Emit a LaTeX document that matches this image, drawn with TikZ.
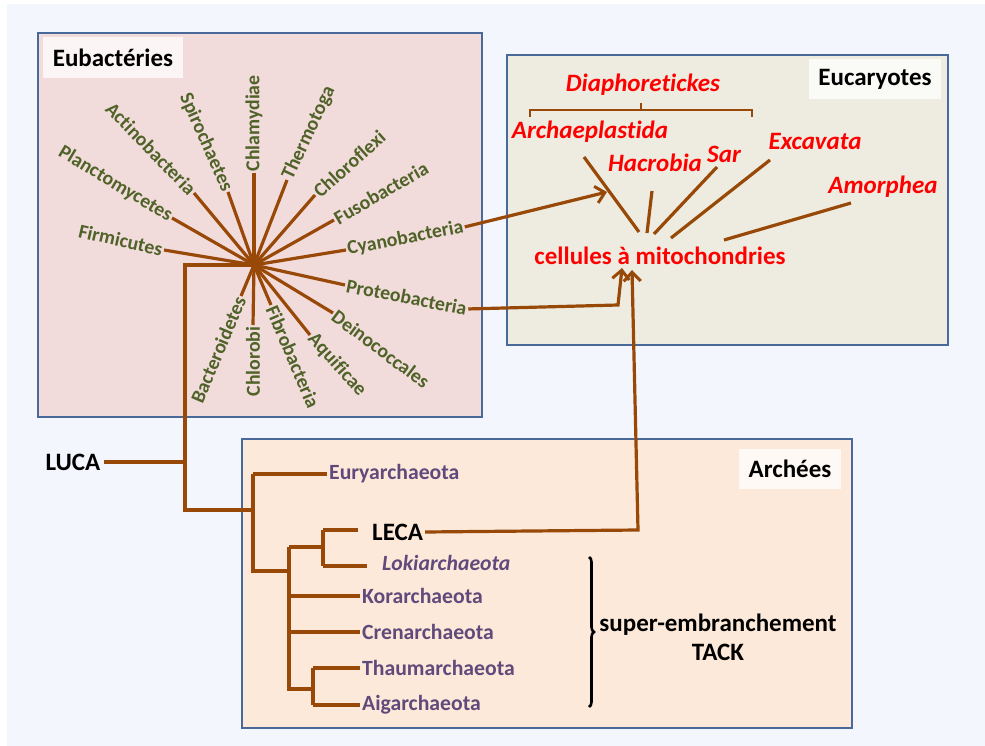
\documentclass[tikz,border=0pt]{standalone}
\usepackage{fontspec}
\setmainfont{Carlito}[Ligatures=NoCommon]
\usetikzlibrary{arrows.meta,decorations.pathreplacing}

\definecolor{brun}{HTML}{984807}
\definecolor{vertol}{HTML}{4F6228}
\definecolor{violarch}{HTML}{604A7B}
\definecolor{rouge}{HTML}{FF0000}
\definecolor{bord}{HTML}{48699A}
\definecolor{fondbleu}{HTML}{F3F6FC}

\tikzset{
  branche/.style={brun,line width=3.2pt},
  fleche/.style={branche,-{Straight Barb[length=9pt,width=17pt,line width=3pt]}},
  bact/.style={font=\bfseries\fontsize{19.8}{21}\selectfont,text=vertol,inner sep=1.5pt},
  euca/.style={font=\bfseries\itshape\fontsize{25}{26}\selectfont,text=rouge,inner sep=1pt},
  arch/.style={font=\bfseries\fontsize{21.7}{22}\selectfont,text=violarch,inner sep=2pt,anchor=west},
  noir/.style={font=\bfseries\fontsize{25}{26}\selectfont,text=black},
  titre/.style={noir,fill=white,fill opacity=0.75,text opacity=1,inner sep=0pt},
  boite/.style={draw=bord,line width=2.8pt}
}

\begin{document}
\begin{tikzpicture}[x=1pt,y=-1pt]
\useasboundingbox (0,0) rectangle (985,746);
\fill[white] (0,0) rectangle (985,746);
\fill[fondbleu] (7,4) rectangle (985,746);

% les trois domaines
\filldraw[boite,fill={rgb,255:red,242;green,220;blue,219}] (38,33) rectangle (482,417);
\filldraw[boite,fill={rgb,255:red,238;green,236;blue,225}] (507,55) rectangle (948,345);
\filldraw[boite,fill={rgb,255:red,253;green,233;blue,217}] (242,439) rectangle (852,728);

\node[titre,minimum width=140pt,minimum height=41pt] (eubact) at (113,57.5) {Eubactéries};
\node[titre,minimum width=132pt,minimum height=40pt] (eucar) at (875,79) {Eucaryotes};
\node[titre,minimum width=102pt,minimum height=40pt] (archees) at (790,469) {Archées};

% étoile des eubactéries
\coordinate (O) at (254,265);
\coordinate (firm) at (164,250);
\coordinate (planc) at (172,218);
\coordinate (actino) at (194,193);
\coordinate (spiro) at (228,192);
\coordinate (chlam) at (254,173);
\coordinate (thermo) at (287,180);
\coordinate (chlorof) at (315,195);
\coordinate (fuso) at (334,220);
\coordinate (cyanoB) at (346,250);
\coordinate (proteoB) at (345,285);
\coordinate (deino) at (333,313);
\coordinate (aqui) at (310,335);
\coordinate (fibro) at (271,305);
\coordinate (chlorob) at (253,325);
\coordinate (bactero) at (241,296);

\foreach \b in {firm,planc,actino,spiro,chlam,thermo,chlorof,fuso,cyanoB,proteoB,deino,aqui,fibro,chlorob,bactero}
  \draw[branche] (O) -- (\b);

\node[bact,anchor=east,rotate=-13] (Nfirm) at (firm) {Firmicutes};
\node[bact,anchor=east,rotate=-31] (Nplanc) at (planc) {Planctomycetes};
\node[bact,anchor=east,rotate=-46] (Nactino) at (actino) {Actinobacteria};
\node[bact,anchor=east,rotate=-66] (Nspiro) at (spiro) {Spirochaetes};
\node[bact,anchor=west,rotate=90] (Nchlam) at (chlam) {Chlamydiae};
\node[bact,anchor=west,rotate=65] (Nthermo) at (thermo) {Thermotoga};
\node[bact,anchor=west,rotate=42] (Nchlorof) at (chlorof) {Chloroflexi};
\node[bact,anchor=west,rotate=30] (Nfuso) at (fuso) {Fusobacteria};
\node[bact,anchor=west,rotate=11] (Ncyano) at (cyanoB) {Cyanobacteria};
\node[bact,anchor=west,rotate=-11] (Nproteo) at (proteoB) {Proteobacteria};
\node[bact,anchor=west,rotate=-37] (Ndeino) at (deino) {Deinococcales};
\node[bact,anchor=west,rotate=-48] (Naqui) at (aqui) {Aquificae};
\node[bact,anchor=west,rotate=-67] (Nfibro) at (fibro) {Fibrobacteria};
\node[bact,anchor=east,rotate=90] (Nchlorob) at (chlorob) {Chlorobi};
\node[bact,anchor=east,rotate=67] (Nbactero) at (bactero) {Bacteroidetes};

% eucaryotes
\node[euca] (diapho) at (643,85) {Diaphoretickes};
\node[euca] (archaep) at (590,132) {Archaeplastida};
\node[euca] (hacro) at (655,163) {Hacrobia};
\node[euca] (sar) at (724,154) {Sar};
\node[euca] (excav) at (815,141) {Excavata};
\node[euca] (amorph) at (883,187) {Amorphea};
\node[noir,text=rouge] (cellules) at (660,256) {cellules à mitochondries};

\draw[brun,line width=2.8pt] (530,117) -- (530,110) -- (752,110) -- (752,117);
\draw[brun,line width=2.8pt] (641,110) -- (641,103);

\coordinate (e1a) at (584,157); \coordinate (e1b) at (639,232);
\coordinate (e2a) at (652,191); \coordinate (e2b) at (647,233);
\coordinate (e3a) at (717,167); \coordinate (e3b) at (654,234);
\coordinate (e4a) at (770,160); \coordinate (e4b) at (671,238);
\coordinate (e5a) at (851,203); \coordinate (e5b) at (724,240);
\draw[branche] (e1a) -- (e1b);
\draw[branche] (e2a) -- (e2b);
\draw[branche] (e3a) -- (e3b);
\draw[branche] (e4a) -- (e4b);
\draw[branche] (e5a) -- (e5b);

% archées
\node[noir] (luca) at (73,462) {LUCA};
\coordinate (r0) at (185,265);
\coordinate (r2) at (185,510);
\coordinate (a0) at (253,510);
\coordinate (a1) at (253,474);
\coordinate (a2) at (253,571);
\coordinate (b0) at (289,571);
\coordinate (b1) at (289,547);
\coordinate (b2) at (289,689);
\coordinate (c0) at (323,547);
\coordinate (c1) at (323,530);
\coordinate (c2) at (323,566);
\coordinate (d0) at (313,689);
\coordinate (d1) at (313,668);
\coordinate (d2) at (313,705);

\node[arch] (eury) at (327,474) {Euryarchaeota};
\node[noir,anchor=west,inner sep=2pt] (leca) at (370,532) {LECA};
\node[arch,font=\bfseries\itshape\fontsize{21.7}{22}\selectfont] (loki) at (380,563) {Lokiarchaeota};
\node[arch] (kor) at (360,596) {Korarchaeota};
\node[arch] (cren) at (360,632) {Crenarchaeota};
\node[arch] (thaum) at (360,668) {Thaumarchaeota};
\node[arch] (aig) at (360,705) {Aigarchaeota};

\draw[branche] (O) -- (r0) -- (r2) -- (a0);
\draw[branche] (luca.east) -- (luca -| r0);
\draw[branche] (a1) -- (a2) -- (b0);
\draw[branche] (a1) -- (eury);
\draw[branche] (b1) -- (b2) -- (d0);
\draw[branche] (b1) -- (c0);
\draw[branche] (c1) -- (c2);
\draw[branche] (c1) -- (358,530);
\draw[branche] (c2) -- (367,566);
\draw[branche] (b2 |- kor) -- (kor);
\draw[branche] (b2 |- cren) -- (cren);
\draw[branche] (d1) -- (d2);
\draw[branche] (d1) -- (thaum.west);
\draw[branche] (d2) -- (aig.west);

\draw[line width=2.6pt,decorate,decoration={brace,amplitude=5pt}] (589,557) -- (589,707);
\node[noir,align=center,font=\bfseries\fontsize{25}{29}\selectfont] (tack) at (718,637) {super-embranchement\\TACK};

% vers les eucaryotes
\coordinate (tipA) at (607,192);
\coordinate (coudeP) at (618,305);
\coordinate (tipP) at (622,268);
\coordinate (coudeL) at (638,530);
\coordinate (tipL) at (632,270);
\draw[fleche] (Ncyano.east) -- (tipA);
\draw[fleche] (Nproteo.east) -- (coudeP) -- (tipP);
\draw[fleche] (leca.east) -- (coudeL) -- (tipL);
\end{tikzpicture}
\end{document}
